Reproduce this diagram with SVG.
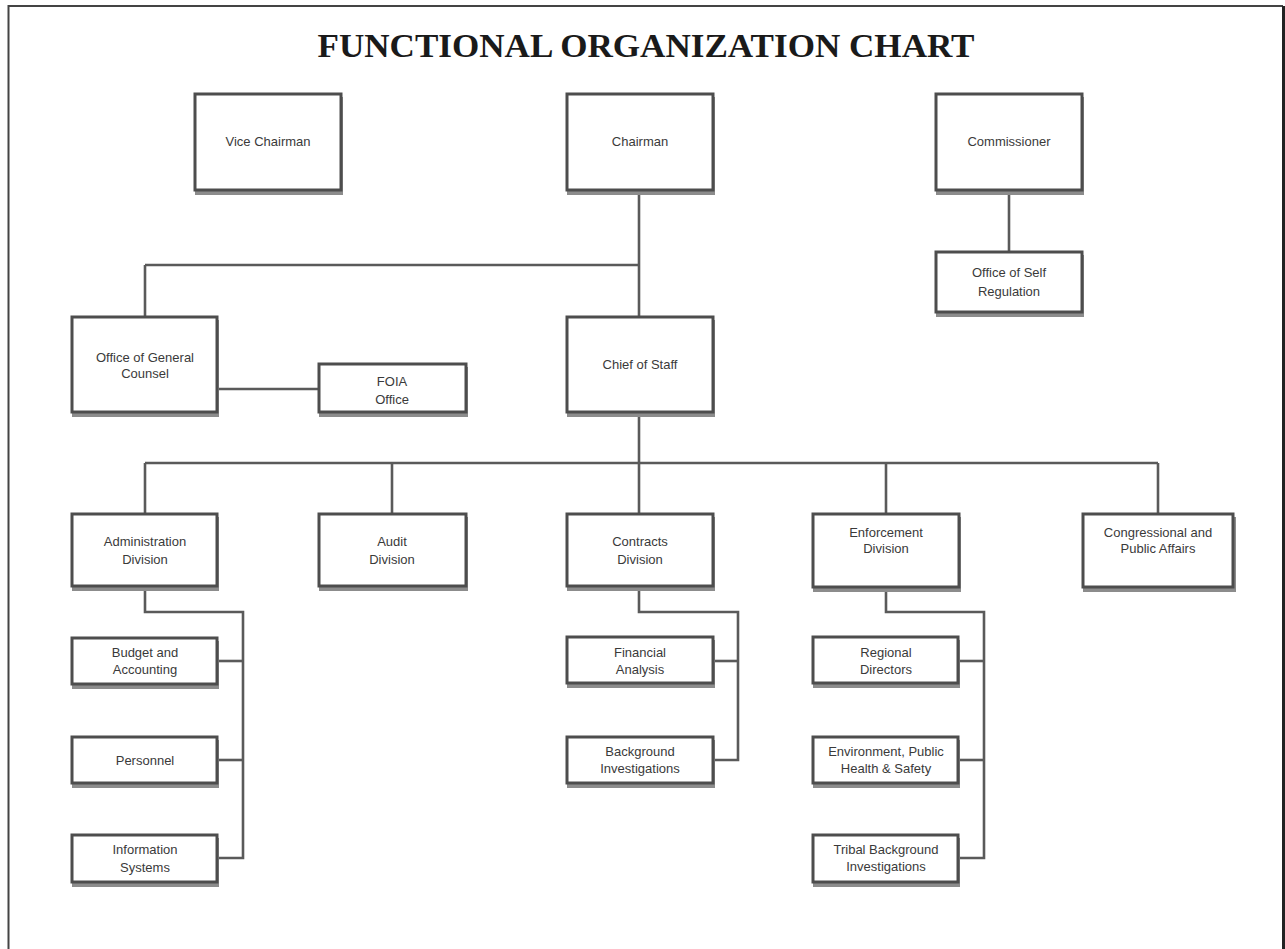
<svg xmlns="http://www.w3.org/2000/svg" width="1285" height="949" viewBox="0 0 1285 949">
<style>
.box rect.sh{fill:#8c8c8c;}
.box rect.b{fill:#fff;stroke:#4d4d4d;stroke-width:3;}
.box text{font-family:"Liberation Sans",Arial,sans-serif;font-size:13px;fill:#3a3a3a;text-anchor:middle;}
.conn path{fill:none;stroke:#5a5a5a;stroke-width:2.6;}
.title{font-family:"Liberation Serif","Times New Roman",serif;font-weight:bold;font-size:34px;fill:#1a1a1a;text-anchor:middle;}
</style>
<rect width="1285" height="949" fill="#fff"/>
<path d="M8.5,949 V6 H1283" fill="none" stroke="#444" stroke-width="2"/>
<path d="M1283.5,6 V949" fill="none" stroke="#222" stroke-width="3"/>
<text class="title" x="646" y="57" textLength="657" lengthAdjust="spacingAndGlyphs">FUNCTIONAL ORGANIZATION CHART</text>

<g class="conn" id="connectors">
<path d="M639,191 V316"/>
<path d="M145,265 H639"/>
<path d="M145,265 V316"/>
<path d="M1009,191 V251"/>
<path d="M217,389 H318"/>
<path d="M639,413 V463"/>
<path d="M145,463 H1158"/>
<path d="M145,463 V513"/>
<path d="M392,463 V513"/>
<path d="M639,463 V513"/>
<path d="M886,463 V513"/>
<path d="M1158,463 V513"/>
<path d="M145,587 V612 H243 V858 H217"/>
<path d="M217,661 H243"/>
<path d="M217,760 H243"/>
<path d="M639,587 V612 H738 V760 H714"/>
<path d="M714,661 H738"/>
<path d="M886,588 V612 H984 V858 H959"/>
<path d="M959,661 H984"/>
<path d="M959,760 H984"/>
</g>

<g class="box" id="vice-chairman"><rect class="sh" x="195" y="97" width="148" height="98"/><rect class="b" x="195" y="94" width="146" height="96"/><text x="268" y="146">Vice Chairman</text></g>
<g class="box" id="chairman"><rect class="sh" x="567" y="97" width="148" height="98"/><rect class="b" x="567" y="94" width="146" height="96"/><text x="640" y="146">Chairman</text></g>
<g class="box" id="commissioner"><rect class="sh" x="936" y="97" width="148" height="98"/><rect class="b" x="936" y="94" width="146" height="96"/><text x="1009" y="146">Commissioner</text></g>
<g class="box" id="office-self-regulation"><rect class="sh" x="936" y="255" width="148" height="62"/><rect class="b" x="936" y="252" width="146" height="60"/><text x="1009" y="277">Office of Self</text><text x="1009" y="296">Regulation</text></g>
<g class="box" id="office-general-counsel"><rect class="sh" x="72" y="320" width="147" height="97"/><rect class="b" x="72" y="317" width="145" height="95"/><text x="145" y="362">Office of General</text><text x="145" y="378">Counsel</text></g>
<g class="box" id="foia-office"><rect class="sh" x="319" y="367" width="149" height="50"/><rect class="b" x="319" y="364" width="147" height="48"/><text x="392" y="386">FOIA</text><text x="392" y="404">Office</text></g>
<g class="box" id="chief-of-staff"><rect class="sh" x="567" y="320" width="148" height="97"/><rect class="b" x="567" y="317" width="146" height="95"/><text x="640" y="369">Chief of Staff</text></g>

<g class="box" id="administration-division"><rect class="sh" x="72" y="517" width="147" height="74"/><rect class="b" x="72" y="514" width="145" height="72"/><text x="145" y="546">Administration</text><text x="145" y="564">Division</text></g>
<g class="box" id="audit-division"><rect class="sh" x="319" y="517" width="149" height="74"/><rect class="b" x="319" y="514" width="147" height="72"/><text x="392" y="546">Audit</text><text x="392" y="564">Division</text></g>
<g class="box" id="contracts-division"><rect class="sh" x="567" y="517" width="148" height="74"/><rect class="b" x="567" y="514" width="146" height="72"/><text x="640" y="546">Contracts</text><text x="640" y="564">Division</text></g>
<g class="box" id="enforcement-division"><rect class="sh" x="813" y="517" width="148" height="75"/><rect class="b" x="813" y="514" width="146" height="73"/><text x="886" y="537">Enforcement</text><text x="886" y="553">Division</text></g>
<g class="box" id="congressional-public-affairs"><rect class="sh" x="1083" y="517" width="153" height="75"/><rect class="b" x="1083" y="514" width="150" height="73"/><text x="1158" y="537">Congressional and</text><text x="1158" y="553">Public Affairs</text></g>

<g class="box" id="budget-accounting"><rect class="sh" x="72" y="641" width="147" height="48"/><rect class="b" x="72" y="638" width="145" height="46"/><text x="145" y="657">Budget and</text><text x="145" y="674">Accounting</text></g>
<g class="box" id="personnel"><rect class="sh" x="72" y="740" width="147" height="48"/><rect class="b" x="72" y="737" width="145" height="46"/><text x="145" y="765">Personnel</text></g>
<g class="box" id="information-systems"><rect class="sh" x="72" y="838" width="147" height="49"/><rect class="b" x="72" y="835" width="145" height="47"/><text x="145" y="854">Information</text><text x="145" y="872">Systems</text></g>

<g class="box" id="financial-analysis"><rect class="sh" x="567" y="640" width="148" height="48"/><rect class="b" x="567" y="637" width="146" height="46"/><text x="640" y="657">Financial</text><text x="640" y="674">Analysis</text></g>
<g class="box" id="background-investigations"><rect class="sh" x="567" y="740" width="148" height="48"/><rect class="b" x="567" y="737" width="146" height="46"/><text x="640" y="756">Background</text><text x="640" y="773">Investigations</text></g>

<g class="box" id="regional-directors"><rect class="sh" x="813" y="640" width="147" height="48"/><rect class="b" x="813" y="637" width="145" height="46"/><text x="886" y="657">Regional</text><text x="886" y="674">Directors</text></g>
<g class="box" id="environment-public-health-safety"><rect class="sh" x="813" y="740" width="147" height="48"/><rect class="b" x="813" y="737" width="145" height="46"/><text x="886" y="756">Environment, Public</text><text x="886" y="773">Health &amp; Safety</text></g>
<g class="box" id="tribal-background-investigations"><rect class="sh" x="813" y="838" width="147" height="49"/><rect class="b" x="813" y="835" width="145" height="47"/><text x="886" y="854">Tribal Background</text><text x="886" y="871">Investigations</text></g>
</svg>
